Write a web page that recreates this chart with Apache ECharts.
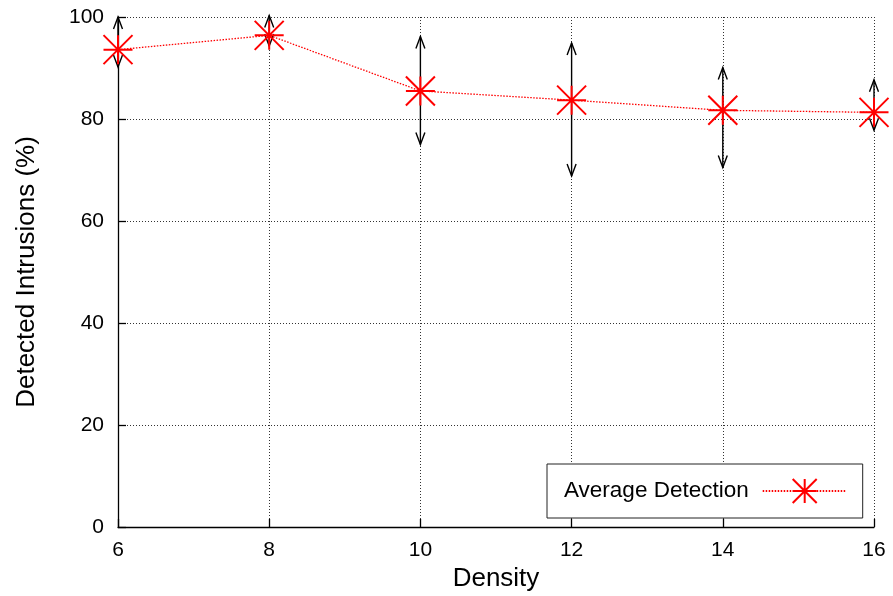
<!DOCTYPE html>
<html>
<head>
<meta charset="utf-8">
<script src="https://cdn.jsdelivr.net/npm/echarts@6/dist/echarts.min.js"></script>
<style>
  html, body { margin: 0; padding: 0; background: #fff; }
  #chart { width: 893px; height: 596px; }
</style>
</head>
<body>
<div id="chart"></div>
<script>
const densities = [6, 8, 10, 12, 14, 16];
const avgDetection = [93.6, 96.4, 85.5, 83.7, 81.7, 81.3];
const lowerBound = [90.2, 94.3, 75.0, 68.8, 70.5, 77.8];
const upperBound = [100, 100.3, 96.2, 94.9, 90.1, 87.7];
const seriesName = 'Average Detection';
const xTitle = 'Density';
const yTitle = 'Detected Intrusions (%)';

const FONT = '"Liberation Sans", Arial, Helvetica, sans-serif';
const STAR = 'path://M0,10L20,10M10,0L10,20M0,0L20,20M20,0L0,20';

const lineData = densities.map((d, i) => [d, avgDetection[i]]);
const errData = densities.map((d, i) => [d, lowerBound[i], upperBound[i]]);

const chart = echarts.init(document.getElementById('chart'), null, { renderer: 'canvas' });

function renderErr(params, api) {
  const x = api.value(0);
  const lo = api.coord([x, api.value(1)]);
  const hi = api.coord([x, api.value(2)]);
  const hw = 4.5, hl = 12;
  const st = { stroke: '#000', lineWidth: 1.4, fill: null };
  return {
    type: 'group',
    children: [
      { type: 'line', shape: { x1: lo[0], y1: lo[1], x2: hi[0], y2: hi[1] }, style: st },
      { type: 'polyline', shape: { points: [[hi[0] - hw, hi[1] + hl], [hi[0], hi[1]], [hi[0] + hw, hi[1] + hl]] }, style: st },
      { type: 'polyline', shape: { points: [[lo[0] - hw, lo[1] - hl], [lo[0], lo[1]], [lo[0] + hw, lo[1] - hl]] }, style: st }
    ]
  };
}

const option = {
  backgroundColor: '#fff',
  animation: false,
  textStyle: { fontFamily: FONT, color: '#000' },
  grid: { left: 118, right: 19, top: 17, bottom: 69, containLabel: false, outerBoundsMode: 'none' },
  legend: {
    left: 547, top: 464,
    orient: 'horizontal',
    align: 'right',
    backgroundColor: '#fff',
    borderColor: '#222',
    borderWidth: 1,
    borderRadius: 0,
    padding: [14, 15, 14, 17],
    itemWidth: 84,
    itemHeight: 30,
    data: [seriesName],
    textStyle: { fontFamily: FONT, fontSize: 22.5, color: '#000', padding: [0, 9, 0, 0] }
  },
  xAxis: {
    type: 'value',
    min: 6, max: 16, interval: 2,
    name: xTitle,
    nameLocation: 'middle',
    nameGap: 37,
    nameTextStyle: { fontFamily: FONT, fontSize: 26, color: '#000' },
    axisLine: { show: true, lineStyle: { color: '#000', width: 1.3 } },
    axisTick: { show: true, inside: true, length: 8, lineStyle: { color: '#000', width: 1.3 } },
    axisLabel: { fontFamily: FONT, fontSize: 21, color: '#000', margin: 13 },
    splitLine: { show: true, lineStyle: { color: '#333', width: 1, type: [1, 2] } }
  },
  yAxis: {
    type: 'value',
    min: 0, max: 100, interval: 20,
    name: yTitle,
    nameLocation: 'middle',
    nameGap: 78,
    nameTextStyle: { fontFamily: FONT, fontSize: 26, color: '#000' },
    axisLine: { show: true, lineStyle: { color: '#000', width: 1.3 } },
    axisTick: { show: true, inside: true, length: 8, lineStyle: { color: '#000', width: 1.3 } },
    axisLabel: { fontFamily: FONT, fontSize: 21, color: '#000', margin: 14 },
    splitLine: { show: true, lineStyle: { color: '#333', width: 1, type: [1, 2] } }
  },
  series: [
    {
      name: 'err',
      type: 'custom',
      renderItem: renderErr,
      data: errData,
      clip: false,
      z: 2,
      silent: true
    },
    {
      name: seriesName,
      type: 'line',
      data: lineData,
      symbol: STAR,
      symbolSize: 29,
      z: 3,
      clip: false,
      lineStyle: { color: '#ff0000', width: 1.3, type: [1.5, 1.5] },
      itemStyle: { color: '#ff0000', borderColor: '#ff0000', borderWidth: 2 }
    }
  ]
};

chart.setOption(option);
</script>
</body>
</html>
